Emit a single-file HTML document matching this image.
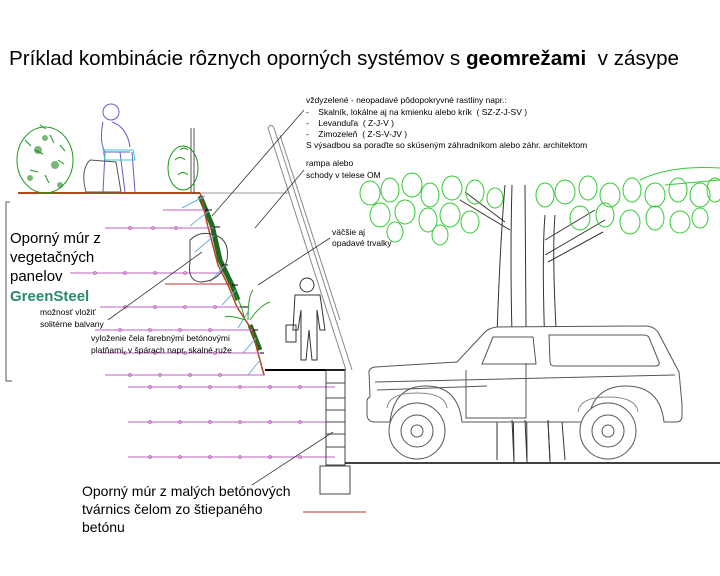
<!DOCTYPE html>
<html><head><meta charset="utf-8"><style>
body{margin:0;background:#fff;}
svg{display:block;font-family:"Liberation Sans",Arial,sans-serif;}
text{white-space:pre;}
</style></head><body>
<svg width="720" height="576" viewBox="0 0 720 576" xmlns="http://www.w3.org/2000/svg">
<rect width="720" height="576" fill="#fff"/>
<text x="9" y="65" font-size="20" textLength="670" lengthAdjust="spacingAndGlyphs" fill="#000">Príklad kombinácie rôznych oporných systémov s <tspan font-weight="bold">geomrežami</tspan>  v zásype</text>

<line x1="18" y1="193" x2="200" y2="193" stroke="#b5471c" stroke-width="2"/>
<line x1="200" y1="193" x2="290" y2="193" stroke="#999" stroke-width="1"/>
<polyline points="10,202 6,202 6,381 12,381" fill="none" stroke="#555" stroke-width="1"/>

<g fill="none" stroke="#1a9a1a" stroke-width="1">
<ellipse cx="45" cy="160" rx="28" ry="33"/>
<path d="M25 140 l6 6 M35 150 l8 4 M50 135 l4 8 M58 160 l6 4 M30 170 l8 2 M45 175 l4 8 M40 125 l6 4 M60 145 l5 6"/>
<ellipse cx="183" cy="168" rx="15" ry="22"/>
<path d="M175 160 q5 -5 10 0 M178 175 q5 -5 10 0 M180 150 q4 -4 8 0"/>
</g>
<g fill="#1e8a1e" opacity="0.6"><circle cx="38" cy="150" r="4"/><circle cx="55" cy="165" r="4"/><circle cx="45" cy="138" r="3"/><circle cx="30" cy="178" r="3"/><circle cx="60" cy="185" r="3"/></g>
<g fill="none" stroke="#6a5acd" stroke-width="1">
<circle cx="111" cy="112" r="8"/>
<path d="M103 122 q-4 20 2 30 l25 0 M112 122 q15 5 18 25"/>
<path d="M105 152 l-2 40 M120 152 l5 40 M132 152 l3 40"/>
</g>
<path d="M90 160 q-10 10 -4 32 l35 0 l-5 -30 z" fill="none" stroke="#555"/>
<path d="M103 150 l30 0 l2 10 l-30 0 z" fill="none" stroke="#3cc"/>
<line x1="191" y1="128" x2="191" y2="193" stroke="#555"/>
<line x1="194" y1="128" x2="194" y2="193" stroke="#555"/>

<g stroke="#0a5a0a" stroke-width="5" fill="none" opacity="0.9">
<path d="M200 196 L212 225 L220 260 L232 285 L238 300"/>
<path d="M250 325 L256 340 L260 350"/>
</g>
<g stroke="#b5471c" stroke-width="1.5" fill="none">
<path d="M200 193 L208 227 L218 265 L228 285 L237 307 L252 330 L258 353 L264 375"/>
</g>
<g stroke="#000" stroke-width="1" fill="none">
<path d="M205 210 L212 210 M214 227 L220 227 M222 265 L228 265 M232 285 L238 285 M240 307 L248 307 M252 330 L258 330 M258 353 L264 353"/>
</g>
<g stroke="#6ab0e0" stroke-width="1">
<line x1="182" y1="208" x2="205" y2="196"/><line x1="190" y1="226" x2="210" y2="210"/>
<line x1="195" y1="252" x2="215" y2="235"/><line x1="210" y1="282" x2="225" y2="265"/>
<line x1="222" y1="305" x2="236" y2="290"/><line x1="238" y1="328" x2="248" y2="312"/>
<line x1="243" y1="353" x2="256" y2="338"/><line x1="248" y1="375" x2="260" y2="360"/>
</g>
<g stroke="#c060c0" stroke-width="1">
<line x1="163" y1="210" x2="205" y2="210"/>
<line x1="105" y1="228" x2="214" y2="228"/>
<line x1="70" y1="273" x2="224" y2="273"/>
<line x1="165" y1="284" x2="230" y2="284" stroke="#c03030"/>
<line x1="100" y1="307" x2="240" y2="307"/>
<line x1="95" y1="330" x2="253" y2="330"/>
<line x1="100" y1="353" x2="260" y2="353"/>
<line x1="105" y1="375" x2="265" y2="375"/>
<line x1="128" y1="387" x2="335" y2="387"/>
<line x1="128" y1="422" x2="335" y2="422"/>
<line x1="128" y1="457" x2="335" y2="457"/>
<line x1="303" y1="512" x2="366" y2="512" stroke="#c03030"/>
</g>
<g fill="none" stroke="#c060c0" stroke-width="0.8">
<circle cx="130" cy="228" r="1.5"/><circle cx="153" cy="228" r="1.5"/><circle cx="176" cy="228" r="1.5"/>
<circle cx="95" cy="273" r="1.5"/><circle cx="125" cy="273" r="1.5"/><circle cx="155" cy="273" r="1.5"/><circle cx="185" cy="273" r="1.5"/>
<circle cx="125" cy="307" r="1.5"/><circle cx="155" cy="307" r="1.5"/><circle cx="185" cy="307" r="1.5"/><circle cx="215" cy="307" r="1.5"/>
<circle cx="120" cy="330" r="1.5"/><circle cx="150" cy="330" r="1.5"/><circle cx="180" cy="330" r="1.5"/><circle cx="210" cy="330" r="1.5"/>
<circle cx="125" cy="353" r="1.5"/><circle cx="155" cy="353" r="1.5"/><circle cx="185" cy="353" r="1.5"/><circle cx="215" cy="353" r="1.5"/>
<circle cx="130" cy="375" r="1.5"/><circle cx="160" cy="375" r="1.5"/><circle cx="190" cy="375" r="1.5"/><circle cx="220" cy="375" r="1.5"/>
<circle cx="150" cy="387" r="1.5"/><circle cx="180" cy="387" r="1.5"/><circle cx="210" cy="387" r="1.5"/><circle cx="240" cy="387" r="1.5"/><circle cx="270" cy="387" r="1.5"/><circle cx="300" cy="387" r="1.5"/>
<circle cx="150" cy="422" r="1.5"/><circle cx="180" cy="422" r="1.5"/><circle cx="210" cy="422" r="1.5"/><circle cx="240" cy="422" r="1.5"/><circle cx="270" cy="422" r="1.5"/><circle cx="300" cy="422" r="1.5"/>
<circle cx="150" cy="457" r="1.5"/><circle cx="180" cy="457" r="1.5"/><circle cx="210" cy="457" r="1.5"/><circle cx="240" cy="457" r="1.5"/><circle cx="270" cy="457" r="1.5"/><circle cx="300" cy="457" r="1.5"/>
</g>
<path d="M190 240 q10 -10 25 -5 q15 5 12 25 q-5 20 -25 22 q-15 0 -12 -20 z" fill="none" stroke="#444"/>
<g stroke="#2a9a2a" fill="none"><path d="M245 320 q-5 -20 -10 -25 M248 320 q0 -25 5 -30 M250 320 q10 -15 20 -18 M245 320 q-15 -5 -20 -3"/></g>

<line x1="265" y1="370" x2="345" y2="370" stroke="#000" stroke-width="2"/>
<g fill="none" stroke="#444" stroke-width="1">
<rect x="326" y="370" width="19" height="95"/>
<line x1="326" y1="383" x2="345" y2="383"/><line x1="326" y1="398" x2="345" y2="398"/>
<line x1="326" y1="410" x2="345" y2="410"/><line x1="326" y1="422" x2="345" y2="422"/>
<line x1="326" y1="434" x2="345" y2="434"/><line x1="326" y1="447" x2="345" y2="447"/>
<rect x="320" y="466" width="30" height="28"/>
</g>
<line x1="345" y1="463" x2="720" y2="463" stroke="#000" stroke-width="1.5"/>

<g stroke="#888" stroke-width="1" fill="none">
<line x1="268" y1="128" x2="346" y2="370"/>
<line x1="274" y1="128" x2="352" y2="370"/>
<line x1="280" y1="135" x2="340" y2="320"/>
<path d="M268 128 q3 -5 6 0"/>
</g>
<g fill="none" stroke="#333" stroke-width="1">
<circle cx="307" cy="285" r="7"/>
<path d="M295 295 l25 0 l5 35 l-5 0 l-3 -20 l0 50 l-5 0 l-3 -30 l-3 30 l-5 0 l0 -50 l-3 20 l-5 0 z"/>
<rect x="286" y="325" width="10" height="17"/>
</g>

<g stroke="#333" stroke-width="1" fill="none">
<path d="M505 185 q-5 60 -8 150 l0 125 M512 185 q-2 70 0 150 l2 125 M525 185 q0 80 2 275 M545 215 q-5 60 5 245 M555 215 q-5 60 10 245"/>
<path d="M505 222 l-40 -30 M510 230 l-50 -30 M545 240 l50 -30 M545 255 l60 -35 M548 262 l55 -30"/>
</g>
<g fill="none" stroke="#33cc33" stroke-width="1">
<ellipse cx="370" cy="193" rx="10" ry="12"/><ellipse cx="390" cy="190" rx="9" ry="12"/><ellipse cx="412" cy="185" rx="10" ry="12"/>
<ellipse cx="430" cy="195" rx="9" ry="12"/><ellipse cx="452" cy="188" rx="10" ry="12"/><ellipse cx="475" cy="192" rx="9" ry="12"/>
<ellipse cx="495" cy="198" rx="8" ry="10"/><ellipse cx="380" cy="215" rx="10" ry="12"/><ellipse cx="405" cy="212" rx="10" ry="12"/>
<ellipse cx="428" cy="220" rx="9" ry="12"/><ellipse cx="450" cy="215" rx="10" ry="12"/><ellipse cx="470" cy="222" rx="9" ry="11"/>
<ellipse cx="440" cy="235" rx="8" ry="10"/><ellipse cx="395" cy="232" rx="8" ry="10"/>
<ellipse cx="545" cy="195" rx="9" ry="12"/><ellipse cx="565" cy="192" rx="10" ry="12"/><ellipse cx="588" cy="188" rx="9" ry="12"/>
<ellipse cx="610" cy="195" rx="10" ry="12"/><ellipse cx="632" cy="190" rx="9" ry="12"/><ellipse cx="655" cy="195" rx="10" ry="12"/>
<ellipse cx="678" cy="190" rx="9" ry="12"/><ellipse cx="700" cy="195" rx="10" ry="12"/><ellipse cx="715" cy="190" rx="8" ry="12"/>
<ellipse cx="580" cy="218" rx="10" ry="12"/><ellipse cx="605" cy="215" rx="9" ry="12"/><ellipse cx="630" cy="222" rx="10" ry="12"/>
<ellipse cx="655" cy="218" rx="9" ry="12"/><ellipse cx="680" cy="222" rx="10" ry="11"/><ellipse cx="700" cy="218" rx="8" ry="10"/>
<path d="M640 180 q30 -15 80 -12 M665 185 l55 -5"/>
</g>

<!-- car -->
<g fill="#fff" stroke="#555" stroke-width="1">
<path d="M369 372 q0 -4 6 -5 l82 -5 l28 -30 q4 -4 12 -5 l148 -1 q10 0 14 8 l20 38 l3 32 l0 12 q0 6 -6 6 l-12 0 q-4 -36 -38 -36 q-34 0 -38 36 l-126 0 q-4 -36 -36 -36 q-32 0 -36 36 l-15 0 q-8 0 -8 -8 l0 -12 q0 -4 3 -5 z"/>
</g>
<g fill="none" stroke="#555" stroke-width="1">
<path d="M493 337 l40 0 l3 27 l-54 0 z"/>
<path d="M549 335 l95 0 q5 0 6 5 l9 22 q1 4 -4 4 l-101 0 q-4 0 -4 -5 z"/>
<path d="M466 370 l0 48 l60 0 l0 -55"/>
<path d="M375 382 l300 -7 M377 390 l110 -4"/>
<path d="M387 408 q2 -15 30 -15 q28 0 30 15 M578 412 q2 -15 30 -15 q28 0 30 15" stroke="#888"/>
</g>
<g fill="#fff" stroke="#555" stroke-width="1">
<circle cx="417" cy="431" r="28"/><circle cx="608" cy="431" r="28"/>
</g>
<g fill="none" stroke="#555" stroke-width="1">
<circle cx="417" cy="431" r="16"/><circle cx="417" cy="431" r="6"/>
<circle cx="608" cy="431" r="16"/><circle cx="608" cy="431" r="6"/>
</g>
<g stroke="#333" stroke-width="1"><line x1="512" y1="420" x2="514" y2="462"/><line x1="525" y1="420" x2="527" y2="462"/><line x1="548" y1="420" x2="550" y2="462"/></g>

<g font-size="8.5" fill="#000">
<text x="306" y="103">vždyzelené - neopadavé pôdopokryvné rastliny napr.:</text>
<text x="306" y="115">-    Skalník, lokálne aj na kmienku alebo krík  ( SZ-Z-J-SV )</text>
<text x="306" y="126">-    Levanduľa  ( Z-J-V )</text>
<text x="306" y="137">-    Zimozeleň  ( Z-S-V-JV )</text>
<text x="306" y="148">S výsadbou sa poraďte so skúseným záhradníkom alebo záhr. architektom</text>
<text x="306" y="166">rampa alebo</text>
<text x="306" y="178">schody v telese OM</text>
<text x="332" y="235">väčšie aj</text>
<text x="332" y="246">opadavé trvalky</text>
<text x="40" y="315">možnosť vložiť</text>
<text x="40" y="327">solitérne balvany</text>
<text x="91" y="341">vyloženie čela farebnými betónovými</text>
<text x="91" y="353">platňami, v špárach napr. skalné ruže</text>
</g>
<g stroke="#333" stroke-width="0.8">
<line x1="304" y1="110" x2="212" y2="216"/>
<line x1="304" y1="170" x2="255" y2="228"/>
<line x1="330" y1="238" x2="258" y2="285"/>
<line x1="108" y1="320" x2="202" y2="252"/>
<line x1="252" y1="485" x2="333" y2="432"/>
</g>
<g font-size="15" fill="#000">
<text x="10" y="243">Oporný múr z</text>
<text x="10" y="262">vegetačných</text>
<text x="10" y="281">panelov</text>
<text x="10" y="301" font-weight="bold" fill="#2a8a6a">GreenSteel</text>
</g>
<g font-size="14" fill="#000">
<text x="82" y="496">Oporný múr z malých betónových</text>
<text x="82" y="514">tvárnics čelom zo štiepaného</text>
<text x="82" y="532">betónu</text>
</g>
</svg>
</body></html>
